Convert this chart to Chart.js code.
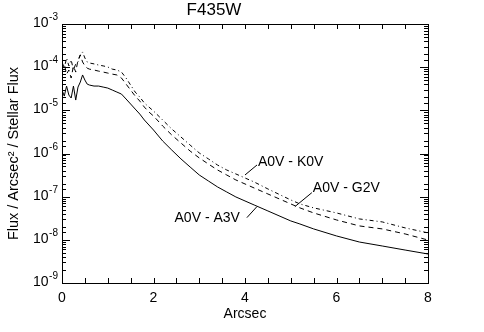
<!DOCTYPE html>
<html>
<head>
<meta charset="utf-8">
<script src="https://cdn.jsdelivr.net/npm/chart.js@4/dist/chart.umd.min.js"></script>
<style>
  html, body { margin: 0; padding: 0; background: #fff; }
  #c { display: block; }
</style>
</head>
<body>
<canvas id="c" width="484" height="332" style="width:484px;height:332px"></canvas>
<script>
// ---- data ----
const arcsec = [0, 0.05, 0.1, 0.15, 0.2, 0.25, 0.3, 0.35, 0.4, 0.45, 0.5, 0.55, 0.6, 0.7, 0.8, 0.9,
  1.0, 1.1, 1.2, 1.3, 1.4, 1.5, 1.6, 1.7, 1.8, 1.9, 2.0, 2.2, 2.4, 2.6, 2.8, 3.0, 3.2, 3.4, 3.6, 3.8,
  4.0, 4.2, 4.5, 5.0, 5.2, 5.5, 6.0, 6.5, 7.0, 7.5, 8.0];

const fluxA0V_K0V = [1.32e-4, 9.5e-5, 1.63e-4, 1.07e-4, 1.47e-4, 8.6e-5, 1.19e-4, 1.32e-4, 1.92e-4, 2.25e-4,
  1.63e-4, 1.32e-4, 1.25e-4, 1.19e-4, 1.12e-4, 1.07e-4, 1.01e-4, 9.0e-5, 8.6e-5, 7.7e-5,
  5.6e-5, 3.85e-5, 2.65e-5, 2.03e-5, 1.48e-5, 1.19e-5, 9.65e-6, 5.97e-6, 3.69e-6, 2.41e-6,
  1.57e-6, 1.03e-6, 7.5e-7, 5.4e-7, 4.15e-7, 3.36e-7, 2.71e-7, 2.19e-7, 1.51e-7, 8.4e-8,
  6.8e-8, 5.5e-8, 4.2e-8, 3.05e-8, 2.6e-8, 1.89e-8, 1.45e-8];

const fluxA0V_G2V = [8.6e-5, 1.19e-4, 6.9e-5, 8.6e-5, 5.6e-5, 1.07e-4, 7.7e-5, 1.47e-4, 1.92e-4, 1.32e-4,
  1.07e-4, 9.5e-5, 9.0e-5, 8.6e-5, 8.1e-5, 7.7e-5, 7.3e-5, 6.9e-5, 6.6e-5, 5.6e-5,
  4.06e-5, 2.95e-5, 2.14e-5, 1.64e-5, 1.19e-5, 9.15e-6, 7.4e-6, 4.34e-6, 2.68e-6, 1.75e-6,
  1.14e-6, 7.9e-7, 5.7e-7, 4.15e-7, 3.18e-7, 2.44e-7, 1.97e-7, 1.59e-7, 1.155e-7, 6.8e-8,
  5.5e-8, 4.2e-8, 2.89e-8, 2.1e-8, 1.79e-8, 1.37e-8, 9.9e-9];

const fluxA0V_A3V = [2.95e-5, 2.14e-5, 3.65e-5, 2.26e-5, 1.93e-5, 3.65e-5, 1.73e-5, 3.46e-5, 4.52e-5, 6.6e-5,
  5.03e-5, 4.06e-5, 3.85e-5, 3.65e-5, 3.65e-5, 3.46e-5, 3.28e-5, 2.95e-5, 2.65e-5, 2.38e-5,
  1.83e-5, 1.4e-5, 1.07e-5, 8.2e-6, 5.97e-6, 4.57e-6, 3.5e-6, 1.95e-6, 1.2e-6, 7.5e-7,
  4.87e-7, 3.18e-7, 2.31e-7, 1.68e-7, 1.285e-7, 9.85e-8, 7.95e-8, 6.42e-8, 4.67e-8, 2.74e-8,
  2.33e-8, 1.79e-8, 1.23e-8, 8.9e-9, 7.2e-9, 5.8e-9, 4.7e-9];

const seriesNames = ['A0V - K0V', 'A0V - G2V', 'A0V - A3V'];
// label anchors on the curves, in data units
const labelAnchorX = [4.0, 5.09, 4.26];
const labelAnchorY = [3.18e-7, 5.87e-8, 5.87e-8];

const xTickLabels = ['0', '2', '4', '6', '8'];
const titleText = 'F435W';
const xTitle = 'Arcsec';
const yTitle = 'Flux / Arcsec\u00B2 / Stellar Flux';

// ---- chart ----
const FONT = "'Liberation Sans', Arial, Helvetica, sans-serif";
const toXY = arr => arcsec.map((x, i) => ({ x: x, y: arr[i] }));

const bgPlugin = {
  id: 'bg',
  beforeDraw(chart) {
    const ctx = chart.ctx;
    ctx.save();
    ctx.fillStyle = '#fff';
    ctx.fillRect(0, 0, chart.width, chart.height);
    ctx.restore();
  }
};

const framePlugin = {
  id: 'frame',
  afterDraw(chart) {
    const { ctx, chartArea: a, scales: { x, y } } = chart;
    ctx.save();
    ctx.strokeStyle = '#000';
    ctx.lineWidth = 1;
    ctx.strokeRect(a.left + 0.5, a.top + 0.5, a.right - a.left, a.bottom - a.top);
    const seg = (x1, y1, x2, y2) => { ctx.beginPath(); ctx.moveTo(x1, y1); ctx.lineTo(x2, y2); ctx.stroke(); };
    // x ticks (bottom and top, inward)
    x.ticks.forEach(t => {
      const px = Math.round(x.getPixelForValue(t.value)) + 0.5;
      seg(px, a.bottom, px, a.bottom - 5);
      seg(px, a.top, px, a.top + 5);
    });
    // y ticks (left and right, inward) + labels
    y.ticks.forEach(t => {
      const lg = Math.log10(t.value);
      const major = Math.abs(lg - Math.round(lg)) < 1e-6;
      const py = Math.round(y.getPixelForValue(t.value)) + 0.5;
      const L = major ? 8 : 4;
      seg(a.left, py, a.left + L, py);
      seg(a.right, py, a.right - L, py);
      if (major) {
        const exp = String(Math.round(lg));
        ctx.fillStyle = '#000';
        ctx.textBaseline = 'middle';
        ctx.font = '10px ' + FONT;
        const ew = ctx.measureText(exp).width;
        const xr = 58;
        ctx.textAlign = 'left';
        ctx.fillText(exp, xr - ew, py - 7);
        ctx.font = '14px ' + FONT;
        ctx.textAlign = 'right';
        ctx.fillText('10', xr - ew - 0.5, py - 1);
      }
    });
    // curve labels with pointer lines
    const offs = [
      { lx: 12, ly: -10, tx: 13, ty: -13, align: 'left' },
      { lx: 17, ly: -14, tx: 18, ty: -19, align: 'left' },
      { lx: -10, ly: 11, tx: -17, ty: 11, align: 'right' }
    ];
    ctx.font = '14px ' + FONT;
    ctx.textBaseline = 'middle';
    ctx.fillStyle = '#000';
    seriesNames.forEach((name, i) => {
      const ax = x.getPixelForValue(labelAnchorX[i]);
      const ay = y.getPixelForValue(labelAnchorY[i]);
      const o = offs[i];
      seg(ax, ay, ax + o.lx, ay + o.ly);
      ctx.textAlign = o.align;
      ctx.fillText(name, ax + o.tx, ay + o.ty);
    });
    ctx.restore();
  }
};

new Chart(document.getElementById('c'), {
  type: 'line',
  data: {
    datasets: [
      { label: seriesNames[0], data: toXY(fluxA0V_K0V), borderColor: '#000', borderWidth: 1,
        borderDash: [4, 3, 1, 3], pointRadius: 0, tension: 0, fill: false },
      { label: seriesNames[1], data: toXY(fluxA0V_G2V), borderColor: '#000', borderWidth: 1,
        borderDash: [5, 4], pointRadius: 0, tension: 0, fill: false },
      { label: seriesNames[2], data: toXY(fluxA0V_A3V), borderColor: '#000', borderWidth: 1,
        pointRadius: 0, tension: 0, fill: false }
    ]
  },
  options: {
    responsive: false,
    animation: false,
    devicePixelRatio: 1,
    layout: { padding: { left: 0, right: 56, top: 0, bottom: 0 } },
    plugins: {
      legend: { display: false },
      tooltip: { enabled: false },
      title: { display: true, text: titleText, color: '#000',
        font: { family: FONT, size: 17, weight: 'normal' }, padding: { top: 0, bottom: 3.6 } }
    },
    scales: {
      x: {
        type: 'linear', min: 0, max: 8,
        grid: { display: false, drawTicks: false },
        border: { display: false },
        ticks: {
          stepSize: 0.5, autoSkip: false, maxRotation: 0, padding: 7, color: '#000',
          font: { family: FONT, size: 14 },
          callback: v => (Number.isInteger(v / 2) ? xTickLabels[v / 2] : '')
        },
        title: { display: true, text: xTitle, color: '#000', font: { family: FONT, size: 14 },
          padding: { top: 0, bottom: 9 } },
        afterFit: s => { s.height = 49; }
      },
      y: {
        type: 'logarithmic', min: 1e-9, max: 1e-3,
        grid: { display: false, drawTicks: false },
        border: { display: false },
        ticks: { display: false },
        title: { display: true, text: yTitle, color: '#000', font: { family: FONT, size: 14.5 },
          padding: { top: 5.5, bottom: 0 } },
        afterFit: s => { s.width = 62; }
      }
    }
  },
  plugins: [bgPlugin, framePlugin]
});
</script>
</body>
</html>
